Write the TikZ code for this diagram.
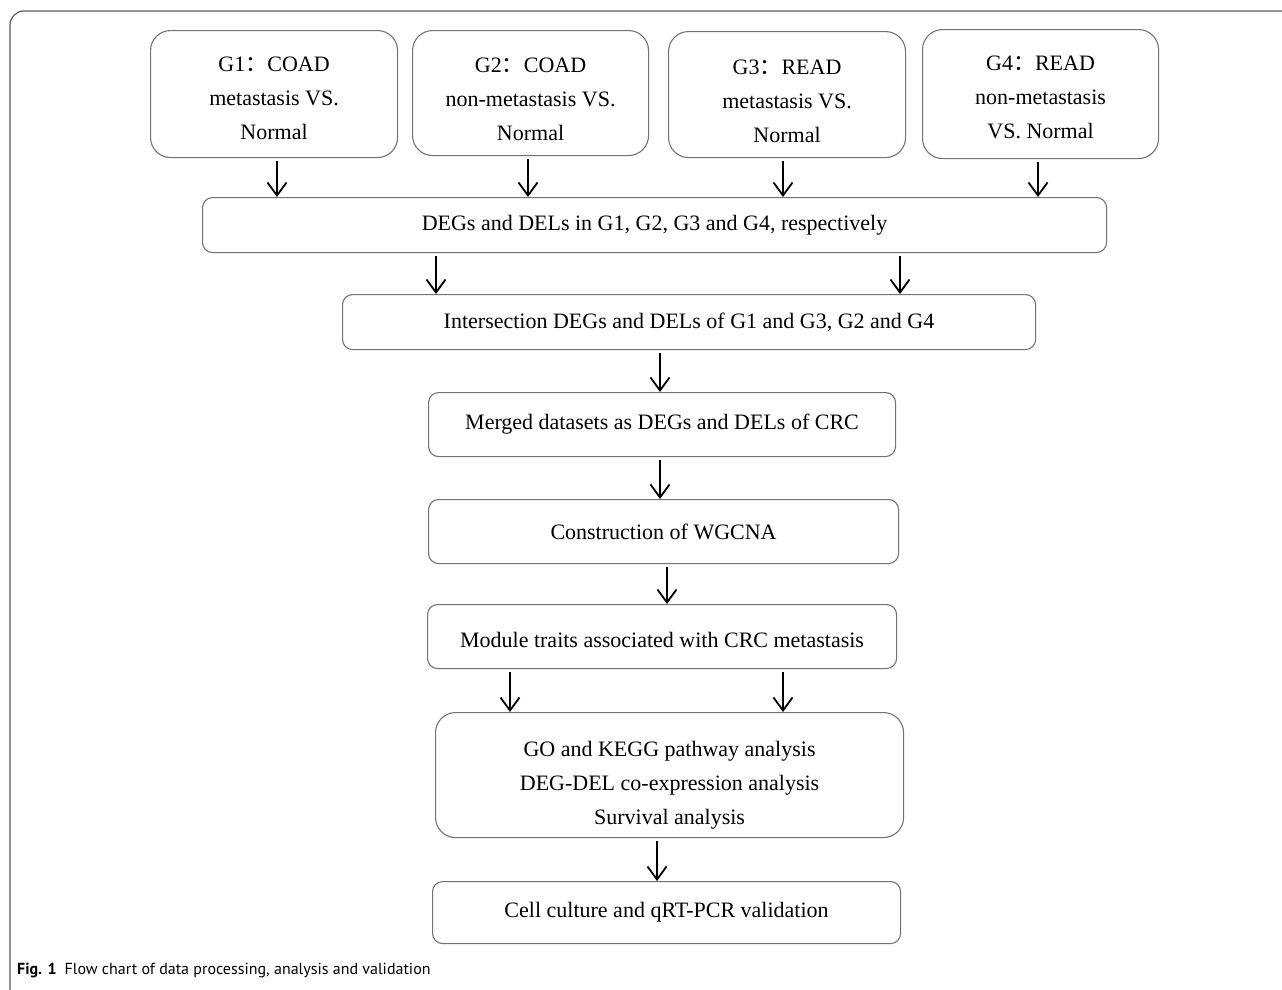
\documentclass[tikz,border=0pt]{standalone}
\usepackage{fontspec}
\setmainfont{Liberation Serif}
\newfontfamily\capfont{PT Sans}
\newfontfamily\cjk{Noto Sans CJK SC}
\usetikzlibrary{arrows.meta,calc}
\newcommand{\boxlines}[2]{\raisebox{-#1}[0pt][0pt]{\begin{tabular}{@{}c@{}}#2\end{tabular}}}
\begin{document}
\begin{tikzpicture}[x=1pt,y=-1pt,
  gbox/.style={draw=black!55, line width=1.1pt, rounded corners=20pt, anchor=north west, align=center, inner sep=0pt, font=\fontsize{22}{34}\selectfont},
  sbox/.style={draw=black!55, line width=1.1pt, rounded corners=10pt, anchor=north west, align=center, inner sep=0pt, font=\fontsize{22}{34}\selectfont},
  arr/.style={-{Straight Barb[length=13pt,width=19pt,line width=1.8pt]}, line width=1.8pt, shorten <=3pt}]
\useasboundingbox (0,0) rectangle (1282,989);
% outer frame
\draw[black!65, line width=1.2pt, rounded corners=14pt] (1290,11) -- (10,11) -- (10,995);
% top boxes
\node[gbox, minimum width=247pt, minimum height=127pt] (g1) at (150,30) {\boxlines{9.5pt}{G1{\cjk ：}COAD\\metastasis VS.\\Normal}};
\node[gbox, minimum width=236pt, minimum height=125pt] (g2) at (412,30) {\boxlines{11.5pt}{G2{\cjk ：}COAD\\non-metastasis VS.\\Normal}};
\node[gbox, minimum width=237pt, minimum height=126pt] (g3) at (668,31) {\boxlines{12.5pt}{G3{\cjk ：}READ\\metastasis VS.\\Normal}};
\node[gbox, minimum width=236pt, minimum height=129pt] (g4) at (922,29) {\boxlines{8.5pt}{G4{\cjk ：}READ\\non-metastasis\\VS. Normal}};
\node[sbox, minimum width=904pt, minimum height=55pt] (deg) at (202,197) {DEGs and DELs in G1, G2, G3 and G4, respectively};
\node[sbox, minimum width=693pt, minimum height=55pt] (inter) at (342,294) {Intersection DEGs and DELs of G1 and G3, G2 and G4};
\node[sbox, minimum width=467pt, minimum height=64pt] (merge) at (428,392) {Merged datasets as DEGs and DELs of CRC};
\node[sbox, minimum width=470pt, minimum height=64pt] (wgcna) at (428,499) {Construction of WGCNA};
\node[sbox, minimum width=469pt, minimum height=64pt] (module) at (427,604) {\raisebox{-11pt}[0pt][0pt]{Module traits associated with CRC metastasis}};
\node[gbox, minimum width=468pt, minimum height=125pt] (go) at (435,712) {\boxlines{13.5pt}{GO and KEGG pathway analysis\\DEG-DEL co-expression analysis\\Survival analysis}};
\node[sbox, minimum width=468pt, minimum height=62pt] (cell) at (432,881) {Cell culture and qRT-PCR validation};
% arrow x positions
\coordinate (c1) at (277,0);
\coordinate (c2) at (528,0);
\coordinate (c3) at (783,0);
\coordinate (c4) at (1038,0);
\coordinate (d1) at (436,0);
\coordinate (d2) at (900,0);
\coordinate (e1) at (660,0);
\coordinate (e2) at (667,0);
\coordinate (f1) at (510,0);
\coordinate (f2) at (783,0);
\coordinate (h1) at (657,0);
\draw[arr] (g1.south -| c1) -- (deg.north -| c1);
\draw[arr] (g2.south -| c2) -- (deg.north -| c2);
\draw[arr] (g3.south -| c3) -- (deg.north -| c3);
\draw[arr] (g4.south -| c4) -- (deg.north -| c4);
\draw[arr] (deg.south -| d1) -- (inter.north -| d1);
\draw[arr] (deg.south -| d2) -- (inter.north -| d2);
\draw[arr] (inter.south -| e1) -- (merge.north -| e1);
\draw[arr] (merge.south -| e1) -- (wgcna.north -| e1);
\draw[arr] (wgcna.south -| e2) -- (module.north -| e2);
\draw[arr] (module.south -| f1) -- (go.north -| f1);
\draw[arr] (module.south -| f2) -- (go.north -| f2);
\draw[arr] (go.south -| h1) -- (cell.north -| h1);
% caption
\node[anchor=west, inner sep=0pt, font=\capfont\fontsize{16}{20}\selectfont] (cap) at (17,970) {\textbf{Fig. 1}\hspace{8pt}Flow chart of data processing, analysis and validation};
\end{tikzpicture}
\end{document}
